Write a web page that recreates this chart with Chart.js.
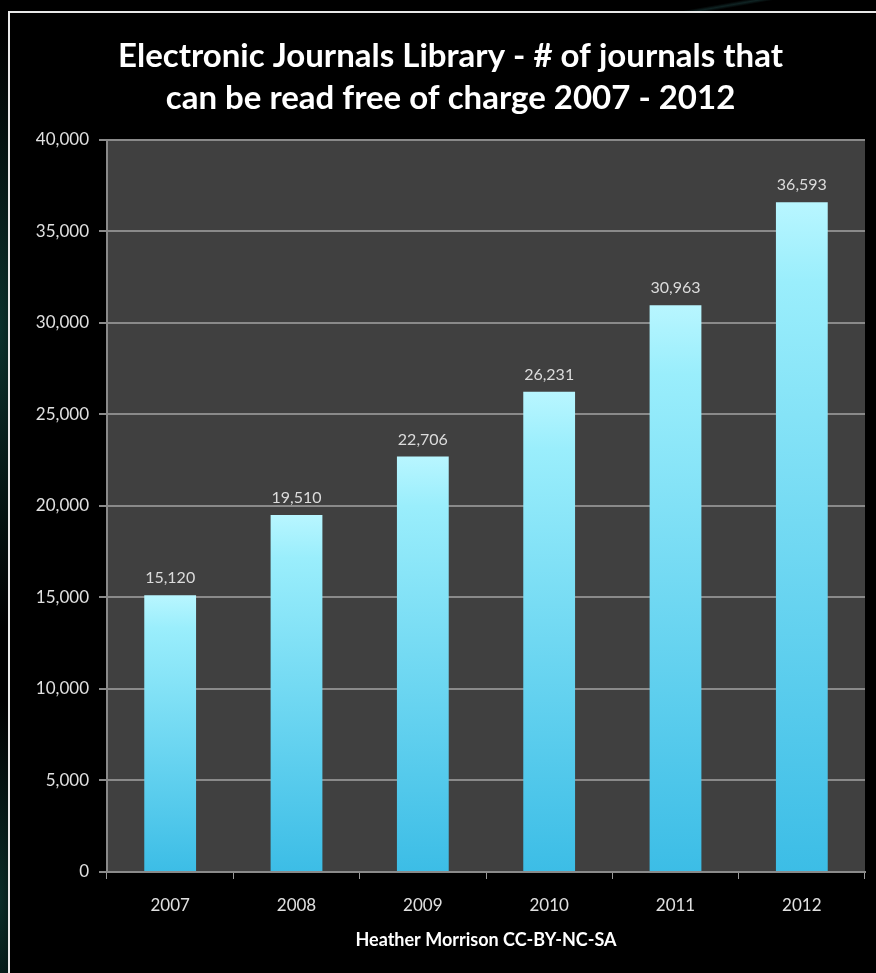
<!DOCTYPE html>
<html><head><meta charset="utf-8">
<script src="https://cdn.jsdelivr.net/npm/chart.js@4/dist/chart.umd.min.js"></script>
<style>
html,body{margin:0;padding:0;background:#000;width:876px;height:973px;overflow:hidden;}
#bg{position:absolute;left:0;top:0;width:876px;height:973px;
 background:
 radial-gradient(ellipse 40px 300px at 0px 330px, rgba(20,90,80,0.55), rgba(0,0,0,0) 100%),
 radial-gradient(ellipse 30px 200px at 0px 900px, rgba(20,90,80,0.5), rgba(0,0,0,0) 100%),
 linear-gradient(170deg, rgba(0,0,0,0) 45%, rgba(30,70,70,0.5) 50%, rgba(0,0,0,0) 55%) 600px 0/250px 12px no-repeat,
 #000;}
#frame{position:absolute;left:8px;top:11px;width:880px;height:980px;border:2px solid #e8e8e8;background:#000;box-sizing:border-box;}
#c{position:absolute;left:0;top:0;}
</style></head>
<body>
<div id="bg"></div>
<div id="frame"></div>
<canvas id="c" width="876" height="973"></canvas>
<script>
const categories = ['2007','2008','2009','2010','2011','2012'];
const journals = [15120, 19510, 22706, 26231, 30963, 36593];
const titleLines = ['Electronic Journals Library - # of journals that','can be read free of charge 2007 - 2012'];
const xAxisTitle = 'Heather Morrison CC-BY-NC-SA';
const yMin = 0, yMax = 40000, yStep = 5000;

const FONT = 'Lato, "Open Sans", sans-serif';
const fmt = v => v.toLocaleString('en-US');

const plotBg = {
  id:'plotBg',
  beforeDraw(chart){
    const {ctx, chartArea:a} = chart;
    ctx.save(); ctx.fillStyle='#404040';
    ctx.fillRect(a.left, a.top, a.right-a.left, a.bottom-a.top);
    ctx.restore();
  }
};
const valueLabels = {
  id:'valueLabels',
  afterDatasetsDraw(chart){
    const {ctx} = chart;
    const meta = chart.getDatasetMeta(0);
    ctx.save();
    ctx.fillStyle='#dcdcdc';
    ctx.font='16px ' + FONT;
    ctx.textAlign='center'; ctx.textBaseline='middle';
    meta.data.forEach((el,i)=>{
      ctx.fillText(fmt(journals[i]), el.x, el.y-17);
    });
    ctx.restore();
  }
};

function barGradient(c){
  const chart=c.chart;
  const ys=chart.scales && chart.scales.y;
  if(!ys || !chart.chartArea || c.raw===undefined) return '#5fd0f0';
  const top=ys.getPixelForValue(c.raw), base=ys.getPixelForValue(0);
  const g=chart.ctx.createLinearGradient(0,top,0,base);
  g.addColorStop(0,'#b8f6ff');
  g.addColorStop(0.12,'#9aeefc');
  g.addColorStop(1,'#3cbde6');
  return g;
}

new Chart(document.getElementById('c'),{
  type:'bar',
  data:{labels:categories,datasets:[{data:journals,backgroundColor:barGradient,borderWidth:0,barPercentage:0.41,categoryPercentage:1}]},
  options:{
    responsive:false,animation:false,
    layout:{padding:{left:36,right:11,top:0,bottom:20}},
    plugins:{
      legend:{display:false},tooltip:{enabled:false},
      title:{display:true,text:titleLines,color:'#ffffff',
        font:{family:FONT,size:33,weight:'bold',lineHeight:1.27},
        padding:{top:35,bottom:21}}
    },
    scales:{
      x:{
        grid:{display:true,offset:true,drawOnChartArea:false,drawTicks:true,tickLength:7,color:'#9a9a9a'},
        border:{display:true,color:'#8a8a8a',width:2},
        ticks:{color:'#e0e0e0',font:{family:FONT,size:17},padding:16},
        title:{display:true,text:xAxisTitle,color:'#ffffff',font:{family:FONT,size:18,weight:'bold'},padding:{top:12,bottom:2}},
        afterFit(s){s.height=81;}
      },
      y:{
        min:yMin,max:yMax,
        grid:{color:'#8a8a8a',lineWidth:2,tickLength:8,drawTicks:true},
        border:{display:true,color:'#8a8a8a',width:2},
        ticks:{stepSize:yStep,color:'#e0e0e0',font:{family:FONT,size:17},padding:10,callback:v=>fmt(v)},
        afterFit(s){s.width=71;}
      }
    }
  },
  plugins:[plotBg,valueLabels]
});
</script>
</body></html>
